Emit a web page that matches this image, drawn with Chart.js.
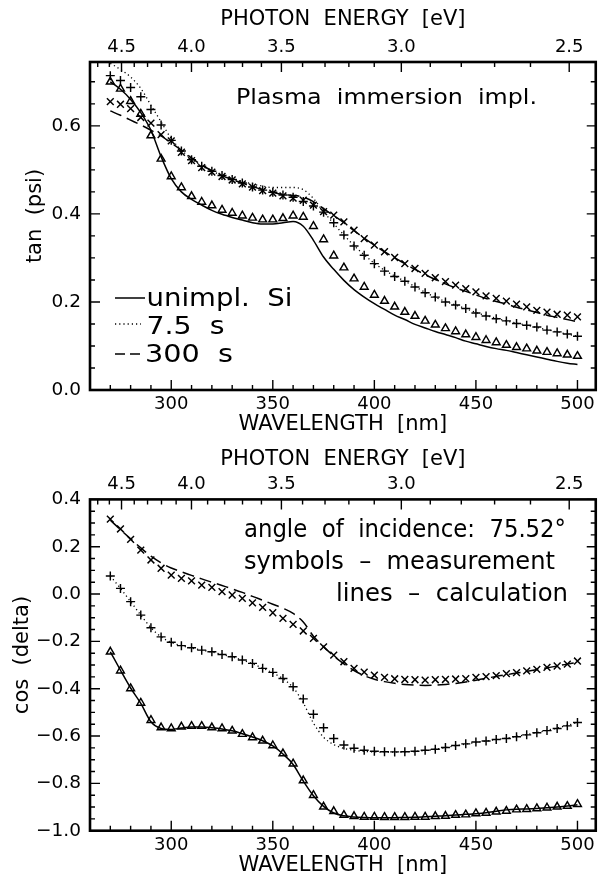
<!DOCTYPE html>
<html><head><meta charset="utf-8">
<script src="https://cdn.jsdelivr.net/npm/chart.js@4.4.0/dist/chart.umd.min.js"></script>
<style>
html,body{margin:0;padding:0;background:#fff;}
#w{position:relative;width:602px;height:885px;background:#fff;}
.c{position:absolute;left:0;width:602px;}
</style></head><body>
<div id="w">
<div class="c" style="top:0;height:440px"><canvas id="c1"></canvas></div>
<div class="c" style="top:440px;height:445px"><canvas id="c2"></canvas></div>
</div>
<script>
// ---------------- data ----------------
const wavelengths = [270,275,280,285,290,295,300,305,310,315,320,325,330,335,340,345,350,355,360,365,370,375,380,385,390,395,400,405,410,415,420,425,430,435,440,445,450,455,460,465,470,475,480,485,490,495,500];

// tan(psi)
const psiUnimplMeas = [0.700,0.684,0.656,0.627,0.578,0.525,0.485,0.460,0.440,0.427,0.419,0.409,0.402,0.396,0.391,0.387,0.387,0.390,0.396,0.393,0.372,0.342,0.305,0.278,0.253,0.234,0.216,0.202,0.189,0.177,0.168,0.157,0.148,0.140,0.133,0.126,0.120,0.113,0.108,0.102,0.097,0.094,0.089,0.086,0.083,0.080,0.077];
const psiUnimplCalc = [0.700,0.683,0.660,0.630,0.590,0.530,0.480,0.450,0.433,0.420,0.408,0.399,0.392,0.386,0.380,0.377,0.377,0.380,0.383,0.372,0.340,0.302,0.274,0.249,0.228,0.211,0.196,0.183,0.170,0.160,0.149,0.141,0.133,0.126,0.119,0.111,0.105,0.099,0.094,0.090,0.085,0.080,0.075,0.070,0.065,0.061,0.058];
const psi75Meas = [0.714,0.703,0.687,0.666,0.637,0.602,0.567,0.543,0.523,0.508,0.497,0.487,0.478,0.470,0.461,0.454,0.449,0.443,0.438,0.428,0.418,0.404,0.380,0.352,0.327,0.306,0.287,0.270,0.258,0.247,0.234,0.221,0.211,0.200,0.193,0.185,0.175,0.168,0.162,0.157,0.151,0.147,0.143,0.136,0.132,0.127,0.122];
const psi75Calc = [0.742,0.728,0.711,0.685,0.647,0.609,0.571,0.545,0.525,0.509,0.497,0.488,0.480,0.474,0.468,0.463,0.460,0.460,0.460,0.455,0.435,0.405,0.378,0.352,0.328,0.307,0.288,0.272,0.259,0.247,0.235,0.222,0.211,0.201,0.193,0.185,0.176,0.169,0.163,0.157,0.152,0.147,0.142,0.137,0.132,0.127,0.122];
const psi300Meas = [0.655,0.649,0.639,0.619,0.606,0.580,0.566,0.540,0.521,0.505,0.495,0.485,0.477,0.468,0.461,0.453,0.447,0.441,0.436,0.431,0.420,0.405,0.397,0.382,0.363,0.344,0.329,0.314,0.301,0.287,0.276,0.265,0.255,0.246,0.238,0.230,0.223,0.214,0.208,0.202,0.195,0.189,0.181,0.177,0.172,0.170,0.166];
const psi300Calc = [0.634,0.624,0.613,0.602,0.590,0.577,0.561,0.545,0.527,0.511,0.498,0.487,0.478,0.470,0.462,0.455,0.449,0.444,0.442,0.438,0.428,0.412,0.396,0.380,0.362,0.345,0.329,0.314,0.300,0.287,0.274,0.262,0.251,0.241,0.232,0.224,0.216,0.208,0.201,0.195,0.188,0.182,0.176,0.170,0.165,0.160,0.155];

// cos(delta)
const cosUnimplMeas = [-0.244,-0.324,-0.399,-0.460,-0.533,-0.564,-0.568,-0.561,-0.558,-0.558,-0.564,-0.568,-0.578,-0.592,-0.606,-0.620,-0.640,-0.674,-0.717,-0.788,-0.850,-0.899,-0.918,-0.934,-0.939,-0.942,-0.942,-0.943,-0.943,-0.943,-0.942,-0.942,-0.939,-0.938,-0.934,-0.932,-0.927,-0.925,-0.920,-0.917,-0.911,-0.909,-0.906,-0.903,-0.899,-0.896,-0.888];
const cosUnimplCalc = [-0.244,-0.322,-0.397,-0.462,-0.540,-0.568,-0.572,-0.566,-0.562,-0.562,-0.565,-0.570,-0.578,-0.590,-0.604,-0.620,-0.642,-0.676,-0.720,-0.790,-0.852,-0.897,-0.925,-0.937,-0.942,-0.944,-0.945,-0.945,-0.945,-0.944,-0.943,-0.941,-0.939,-0.937,-0.934,-0.931,-0.928,-0.924,-0.918,-0.912,-0.909,-0.908,-0.906,-0.903,-0.900,-0.896,-0.890];
const cos75Meas = [0.076,0.024,-0.032,-0.089,-0.142,-0.181,-0.204,-0.218,-0.227,-0.237,-0.244,-0.255,-0.265,-0.279,-0.293,-0.314,-0.331,-0.357,-0.392,-0.443,-0.508,-0.565,-0.610,-0.638,-0.652,-0.660,-0.664,-0.666,-0.667,-0.666,-0.664,-0.660,-0.656,-0.648,-0.640,-0.633,-0.625,-0.621,-0.615,-0.610,-0.603,-0.595,-0.586,-0.577,-0.568,-0.557,-0.543];
const cos75Calc = [0.076,0.024,-0.032,-0.089,-0.142,-0.181,-0.204,-0.218,-0.228,-0.237,-0.245,-0.255,-0.266,-0.279,-0.294,-0.313,-0.333,-0.358,-0.395,-0.460,-0.545,-0.605,-0.636,-0.652,-0.660,-0.665,-0.667,-0.668,-0.668,-0.667,-0.665,-0.661,-0.656,-0.649,-0.641,-0.634,-0.627,-0.621,-0.615,-0.609,-0.602,-0.594,-0.585,-0.576,-0.566,-0.555,-0.543];
const cos300Meas = [0.317,0.275,0.231,0.186,0.144,0.109,0.080,0.066,0.056,0.038,0.028,0.010,-0.004,-0.018,-0.037,-0.056,-0.079,-0.103,-0.128,-0.156,-0.187,-0.223,-0.258,-0.286,-0.314,-0.330,-0.343,-0.352,-0.358,-0.361,-0.362,-0.364,-0.362,-0.361,-0.359,-0.357,-0.352,-0.349,-0.345,-0.336,-0.332,-0.325,-0.318,-0.310,-0.304,-0.296,-0.283];
const cos300Calc = [0.312,0.272,0.233,0.195,0.160,0.132,0.110,0.094,0.079,0.064,0.050,0.036,0.022,0.007,-0.010,-0.026,-0.043,-0.060,-0.082,-0.118,-0.178,-0.222,-0.262,-0.295,-0.323,-0.345,-0.360,-0.370,-0.377,-0.382,-0.385,-0.386,-0.385,-0.382,-0.378,-0.372,-0.364,-0.356,-0.348,-0.341,-0.334,-0.327,-0.319,-0.312,-0.304,-0.296,-0.288];

// axes / ticks
const wlTicks = [300,350,400,450,500];
const wlTickLabels = ['300','350','400','450','500'];
const energyTicks = [4.5,4.0,3.5,3.0,2.5];
const energyTickLabels = ['4.5','4.0','3.5','3.0','2.5'];
const energyMinor = [4.7,4.6,4.4,4.3,4.2,4.1,3.9,3.8,3.7,3.6,3.4,3.3,3.2,3.1,2.9,2.8,2.7,2.6];
const psiTicks = [0.0,0.2,0.4,0.6];
const psiTickLabels = ['0.0','0.2','0.4','0.6'];
const cosTicks = [-1.0,-0.8,-0.6,-0.4,-0.2,0.0,0.2,0.4];
const cosTickLabels = ['\u22121.0','\u22120.8','\u22120.6','\u22120.4','\u22120.2','0.0','0.2','0.4'];
const seriesLabels = ['unimpl.  Si','7.5  s','300  s'];

// ---------------- drawing ----------------
const HC = 1239.84; // eV*nm
const FONT = '"DejaVu Sans", "Liberation Sans", sans-serif';
Chart.defaults.font.family = FONT;
Chart.defaults.color = '#000';

function pts(ys){ return wavelengths.map((w,i)=>({x:w,y:ys[i]})); }
function lineDs(label, ys, dash, width){
  return {label, data:pts(ys), showLine:true, pointRadius:0, pointHoverRadius:0,
    borderColor:'#000', borderWidth:width, borderDash:dash, fill:false,
    cubicInterpolationMode:'monotone'};
}
function markDs(label, ys, style, r){
  return {label, data:pts(ys), showLine:false, pointStyle:style, pointRadius:r, pointHoverRadius:r,
    pointBorderColor:'#000', pointBackgroundColor:'rgba(0,0,0,0)', pointBorderWidth:1.45,
    borderColor:'#000', backgroundColor:'rgba(0,0,0,0)'};
}
function range(a,b,s){ const r=[]; for(let v=a; v<=b+1e-9; v+=s) r.push(+v.toFixed(4)); return r; }

// draw text stretched horizontally to span the given width
function fitText(ctx, t, x, y, w, size){
  ctx.save();
  ctx.font = size+'px '+FONT;
  ctx.textBaseline = 'middle'; ctx.textAlign = 'left'; ctx.fillStyle = '#000';
  const m = ctx.measureText(t).width;
  const sx = Math.max(0.8, Math.min(1.3, w / m));
  ctx.translate(x, y); ctx.scale(sx, 1);
  ctx.fillText(t, 0, 0);
  ctx.restore();
}

const frameTicks = {
  id:'frameTicks',
  afterDatasetsDraw(chart, args, o){
    const {ctx, chartArea:a} = chart; const xs = chart.scales.x, ys = chart.scales.y;
    ctx.save(); ctx.strokeStyle = '#000'; ctx.lineWidth = 1.4; ctx.beginPath();
    const wlMinor = range(270, 500, 10).filter(v => !wlTicks.includes(v));
    for (const v of wlMinor){ const p = xs.getPixelForValue(v); ctx.moveTo(p,a.bottom); ctx.lineTo(p,a.bottom-5); }
    for (const v of wlTicks){ const p = xs.getPixelForValue(v); ctx.moveTo(p,a.bottom); ctx.lineTo(p,a.bottom-10); }
    for (const e of energyMinor){ const p = xs.getPixelForValue(HC/e); ctx.moveTo(p,a.top); ctx.lineTo(p,a.top+5); }
    for (const e of energyTicks){ const p = xs.getPixelForValue(HC/e); ctx.moveTo(p,a.top); ctx.lineTo(p,a.top+10); }
    const yMajor = o.yMajor;
    const yMinor = range(o.yMin, o.yMax, 0.05).filter(v => !yMajor.some(m => Math.abs(m-v) < 1e-6));
    for (const v of yMinor){ const p = ys.getPixelForValue(v); ctx.moveTo(a.left,p); ctx.lineTo(a.left+5,p); ctx.moveTo(a.right,p); ctx.lineTo(a.right-5,p); }
    for (const v of yMajor){ const p = ys.getPixelForValue(v); ctx.moveTo(a.left,p); ctx.lineTo(a.left+10,p); ctx.moveTo(a.right,p); ctx.lineTo(a.right-9,p); }
    ctx.stroke();
    ctx.lineWidth = 2.6; ctx.strokeRect(a.left, a.top, a.right-a.left, a.bottom-a.top);
    ctx.restore();
  }
};

const annot = {
  id:'annot',
  afterDraw(chart, args, o){
    const ctx = chart.ctx; ctx.save();
    for (const t of (o.texts || [])) fitText(ctx, t.text, t.x, t.y, t.w, t.size);
    for (const l of (o.legend || [])){
      const ds = chart.data.datasets[l.ds];
      ctx.strokeStyle = '#000'; ctx.lineWidth = ds.borderWidth; ctx.setLineDash(l.dash || ds.borderDash || []);
      ctx.beginPath(); ctx.moveTo(l.x1, l.ly); ctx.lineTo(l.x2, l.ly); ctx.stroke();
      ctx.setLineDash([]);
      fitText(ctx, ds.label, l.tx, l.y, l.w, l.size);
    }
    ctx.restore();
  }
};

function makeOptions(cfg){
  return {
    responsive:true, maintainAspectRatio:false, animation:false, devicePixelRatio:1,
    layout:{padding:{left:0,right:2,top:0,bottom:0}},
    plugins:{legend:{display:false}, tooltip:{enabled:false},
      frameTicks:{yMajor:cfg.yTicks, yMin:cfg.yMin, yMax:cfg.yMax},
      annot:cfg.annot},
    scales:{
      x:{type:'linear', position:'bottom', min:260, max:509,
        grid:{display:false, drawTicks:false}, border:{display:false},
        ticks:{autoSkip:false, maxRotation:0, padding:3.5, font:{size:18}, color:'#000',
          callback:(v,i)=>wlTickLabels[i]},
        afterBuildTicks:s=>{ s.ticks = wlTicks.map(v=>({value:v})); },
        afterFit:s=>{ s.height = cfg.bottomH; },
        title:{display:true, text:'WAVELENGTH  [nm]', font:{size:21}, color:'#000', padding:{top:0,bottom:cfg.xTitlePad}}},
      xTop:{type:'linear', position:'top', min:260, max:509,
        grid:{display:false, drawTicks:false}, border:{display:false},
        ticks:{autoSkip:false, maxRotation:0, padding:4, font:{size:18}, color:'#000',
          callback:(v,i)=>energyTickLabels[i]},
        afterBuildTicks:s=>{ s.ticks = energyTicks.map(e=>({value:HC/e})); },
        afterFit:s=>{ s.height = cfg.topH; },
        title:{display:true, text:'PHOTON  ENERGY  [eV]', font:{size:21}, color:'#000', padding:{top:7.4,bottom:0}}},
      y:{type:'linear', position:'left', min:cfg.yMin, max:cfg.yMax,
        grid:{display:false, drawTicks:false}, border:{display:false},
        ticks:{autoSkip:false, padding:9, font:{size:18.5}, color:'#000',
          callback:(v,i)=>cfg.yLabels[i]},
        afterBuildTicks:s=>{ s.ticks = cfg.yTicks.map(v=>({value:v})); },
        afterFit:s=>{ s.width = 90; },
        title:{display:true, text:cfg.yTitle, font:{size:21}, color:'#000', padding:{top:cfg.yTitlePad,bottom:0}}}
    }
  };
}

new Chart(document.getElementById('c1'), {
  type:'scatter',
  data:{datasets:[
    lineDs(seriesLabels[0], psiUnimplCalc, [], 1.5),
    lineDs(seriesLabels[1], psi75Calc, [1.2,3], 1.3),
    lineDs(seriesLabels[2], psi300Calc, [12,6], 1.5),
    markDs(seriesLabels[0], psiUnimplMeas, 'triangle', 4.5),
    markDs(seriesLabels[1], psi75Meas, 'cross', 4.5),
    markDs(seriesLabels[2], psi300Meas, 'crossRot', 4.8)
  ]},
  options:makeOptions({yMin:0, yMax:0.745, yTicks:psiTicks, yLabels:psiTickLabels, yTitle:'   tan  (psi)',
    yTitlePad:23.4, bottomH:50, topH:62, xTitlePad:3,
    annot:{
      texts:[{text:'Plasma  immersion  impl.', x:236, y:98, w:301, size:22}],
      legend:[
        {ds:0, x1:115, x2:145, ly:298, tx:146.5, y:300, w:146, size:24},
        {ds:1, x1:115, x2:141, ly:324, tx:146.5, y:328, w:78, size:24},
        {ds:2, x1:115, x2:143, ly:354, tx:145, y:356, w:88, size:24, dash:[10,5]}
      ]
    }}),
  plugins:[frameTicks, annot]
});

new Chart(document.getElementById('c2'), {
  type:'scatter',
  data:{datasets:[
    lineDs(seriesLabels[0], cosUnimplCalc, [], 1.5),
    lineDs(seriesLabels[1], cos75Calc, [1.2,3], 1.3),
    lineDs(seriesLabels[2], cos300Calc, [12,6], 1.5),
    markDs(seriesLabels[0], cosUnimplMeas, 'triangle', 4.5),
    markDs(seriesLabels[1], cos75Meas, 'cross', 4.5),
    markDs(seriesLabels[2], cos300Meas, 'crossRot', 4.8)
  ]},
  options:makeOptions({yMin:-1.0, yMax:0.4, yTicks:cosTicks, yLabels:cosTickLabels, yTitle:'   cos  (delta)',
    yTitlePad:10, bottomH:54.3, topH:59.4, xTitlePad:6.4,
    annot:{
      texts:[
        {text:'angle  of  incidence:  75.52\u00B0', x:244, y:91, w:322, size:24},
        {text:'symbols  \u2013  measurement', x:244, y:123, w:311, size:24},
        {text:'lines  \u2013  calculation', x:336, y:155, w:232, size:24}
      ]
    }}),
  plugins:[frameTicks, annot]
});
</script>
</body></html>
